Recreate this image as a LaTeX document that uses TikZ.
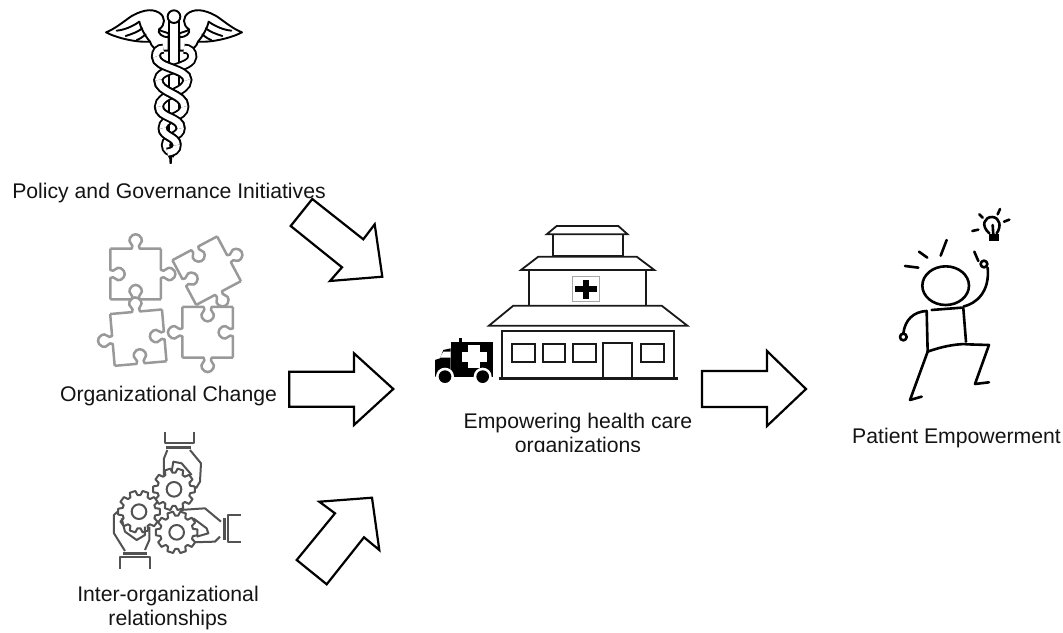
\documentclass[tikz,border=0pt]{standalone}
\usepackage{fontspec}
\setmainfont{Liberation Sans}
\tikzset{
  lbl/.style={text=black!92,align=center,inner sep=0pt},
  lblbg/.style={lbl,font=\fontsize{21.2}{24.5}\selectfont},
  blockarrow/.style={draw=black,line width=2.2pt,fill=white,line join=miter},
  pzl/.style={draw=black!40,line width=2.5pt,line join=round},
  gr/.style={draw=black!68,line width=2pt,line join=round},
  hb/.style={draw=black!90,line width=1.8pt},
  sk/.style={draw=black,line width=2.6pt,line cap=round,line join=round},
  wg/.style={draw=black,line width=1.9pt,line cap=round,line join=round},
  zc/.style={x=0.3333pt,y=-0.3333pt}
}
\newcommand{\pzpiece}[8]{%
 \begin{scope}[shift={(#1,#2)},rotate=#3]
  \foreach \ii/\sg in {0/#5,-90/#6,180/#7,90/#8}{
   \draw[pzl,rotate=\ii,shift={(0,-#4)},yscale=\sg]
    (-#4,0) -- (-12,0) .. controls (-2,-12) and (-26,-18) .. (-17,-32)
    .. controls (-9,-47) and (9,-47) .. (17,-32)
    .. controls (26,-18) and (2,-12) .. (12,0) -- (#4,0);
  }
 \end{scope}}
\newcommand{\gearat}[2]{%
 \begin{scope}[shift={(#1,#2)}]
  \draw[gr,fill=white] (-12:50) \foreach \a in {0,36,...,324}{
     -- ({\a-8}:63) -- ({\a+8}:63) -- ({\a+13}:50) -- ({\a+23}:50)} -- cycle;
  \draw[gr] (0,0) circle [radius=22];
 \end{scope}}
\newcommand{\band}[1]{%
 \draw[black,line width=10pt] #1;
 \draw[white,line width=6.2pt] #1;}
\begin{document}
\begin{tikzpicture}[x=1pt,y=-1pt]
\useasboundingbox[fill=white] (0,0) rectangle (1063,632);

% caduceus
\begin{scope}[shift={(80,0)},zc]
 \foreach \m in {1,-1}{
  \begin{scope}[shift={(282,0)},xscale=\m]
   \draw[wg,fill=white]
     (-16,100) .. controls (-30,95) and (-45,92) .. (-45,88)
     .. controls (-25,75) and (-25,50) .. (-45,38)
     .. controls (-70,22) and (-105,35) .. (-130,50)
     .. controls (-155,68) and (-180,88) .. (-204,97)
     .. controls (-170,115) and (-110,128) .. (-72,125)
     .. controls (-68,140) and (-55,150) .. (-40,152)
     -- (-16,152) -- cycle;
   \draw[wg] (-172,92) .. controls (-150,90) and (-125,80) .. (-104,65);
   \draw[wg] (-145,108) .. controls (-125,102) and (-108,95) .. (-95,85);
   \draw[wg] (-112,120) .. controls (-105,118) and (-95,112) .. (-85,103);
   \draw[wg] (-104,65) .. controls (-100,85) and (-85,110) .. (-72,125);
   \draw[wg] (-45,88) .. controls (-50,100) and (-35,112) .. (-16,112);
  \end{scope}}
 \draw[black,line width=1.9pt,fill=white] (268,65) -- (268,430) -- (296,430) -- (296,65) -- cycle;
 \draw[black,line width=1.9pt,fill=white] (282,50) circle [radius=19];
 \fill[black] (264,430) -- (269,492) -- (275,492) -- (280,430) -- cycle;
 \def\Sa{(250,146) .. controls (235,146) and (228,155) .. (228,170) .. controls (228,205) and (322,205) .. (322,240) .. controls (322,280) and (237,280) .. (237,320) .. controls (237,355) and (302,350) .. (302,385) .. controls (302,410) and (258,410) .. (258,435) .. controls (258,450) and (268,455) .. (285,458)}
 \def\Sb{(312,146) .. controls (328,146) and (337,155) .. (337,170) .. controls (337,205) and (235,205) .. (235,240) .. controls (235,280) and (313,280) .. (313,320) .. controls (313,355) and (248,350) .. (248,385) .. controls (248,410) and (290,410) .. (290,435) .. controls (290,450) and (280,455) .. (262,458)}
 \band{\Sa}
 \band{\Sb}
 \band{(228,170) .. controls (228,205) and (322,205) .. (322,240)}
 \band{(235,240) .. controls (235,280) and (313,280) .. (313,320)}
 \band{(237,320) .. controls (237,355) and (302,350) .. (302,385)}
 \band{(248,385) .. controls (248,410) and (290,410) .. (290,435)}
\end{scope}

% puzzle
\begin{scope}[shift={(80,225)},zc]
 \pzpiece{383}{322}{0}{76}{-1}{-1}{1}{1}
 \pzpiece{380}{137}{28}{76}{-1}{1}{1}{-1}
 \pzpiece{175}{338}{5}{78}{1}{-1}{-1}{1}
 \pzpiece{167}{147}{0}{76}{1}{1}{-1}{-1}
\end{scope}

% gears and hands
\begin{scope}[shift={(90,425)},zc]
 \draw[gr] (225,20) -- (225,55) -- (312,55) -- (312,20);
 \draw[black!68,line width=3pt] (228,67) -- (303,67);
 \draw[gr] (232,75) -- (222,100) -- (222,150);
 \draw[gr] (300,75) -- (333,115) -- (330,170) -- (318,190);
 \draw[gr] (245,140) -- (250,110) -- (275,115) -- (305,150);
 \draw[gr] (452,270) -- (415,270) -- (415,352) -- (452,352);
 \draw[black!68,line width=3pt] (403,280) -- (403,345);
 \draw[gr] (393,290) -- (345,250) -- (270,255);
 \draw[gr] (390,335) -- (375,350) -- (305,352);
 \draw[gr] (90,432) -- (90,397) -- (180,397) -- (180,432);
 \draw[black!68,line width=3pt] (100,385) -- (172,385);
 \draw[gr] (105,378) -- (72,325) -- (72,270) -- (85,258);
 \draw[gr] (165,375) -- (178,345) -- (178,305);
 \gearat{252}{193}
 \gearat{147}{260}
 \gearat{260}{322}
 \draw[gr] (310,280) -- (350,310) -- (355,325) -- (320,335);
 \draw[gr] (95,280) -- (105,320) -- (140,345) -- (165,330) -- (165,305);
\end{scope}

% hospital
\begin{scope}[shift={(425,215)},zc]
 \begin{scope}[hb]
  \draw (365,58) -- (395,33) -- (580,33) -- (608,58) -- cycle;
  \draw (383,60) -- (383,122) -- (593,122) -- (593,60);
  \draw (288,165) -- (340,125) -- (635,125) -- (688,165) -- cycle;
  \draw (312,168) -- (312,270);
  \draw (662,168) -- (662,270);
  \draw (192,332) -- (265,272) -- (710,272) -- (787,332) -- cycle;
  \draw (230,347) rectangle (748,490);
  \draw (262,387) rectangle (329,440);
  \draw (353,387) rectangle (420,440);
  \draw (445,387) rectangle (512,440);
  \draw (533,383) rectangle (622,488);
  \draw (649,387) rectangle (716,440);
 \end{scope}
 \draw[black!35,line width=.9pt] (443,184) rectangle (522,260);
 \fill[black] (474,194) rectangle (492,251);
 \fill[black] (450,213) rectangle (515,231);
 \draw[black!90,line width=2.4pt] (222,491) -- (758,491);
 % ambulance
 \fill[black] (77,382) rectangle (205,485);
 \fill[black] (77,400) -- (55,405) -- (45,430) -- (30,435) -- (30,485) -- (77,485) -- cycle;
 \fill[white] (55,410) -- (77,410) -- (77,428) -- (45,428) -- cycle;
 \fill[black] (102,368) rectangle (112,384);
 \fill[white] (130,390) rectangle (165,460);
 \fill[white] (110,410) rectangle (185,440);
 \fill[white] (60,485) circle [radius=27];
 \fill[white] (173,485) circle [radius=27];
 \fill[black] (60,485) circle [radius=19];
 \fill[black] (173,485) circle [radius=19];
\end{scope}

% person
\begin{scope}[shift={(880,205)},zc]
 \begin{scope}[sk]
  \draw (197,242) ellipse [x radius=70,y radius=58];
  \draw (155,315) -- (245,308);
  \draw (140,318) -- (143,440);
  \draw (250,310) -- (258,410);
  \draw (143,440) .. controls (185,425) and (220,418) .. (258,417);
  \draw (258,418) -- (327,420) -- (285,537) -- (327,532);
  \draw (143,440) -- (90,585) -- (125,575);
  \draw (140,318) .. controls (100,320) and (75,345) .. (70,385);
  \draw (70,396) circle [radius=10];
  \draw (250,305) .. controls (290,295) and (330,260) .. (323,188);
  \draw (312,177) circle [radius=10];
  \draw (75,183) -- (115,188);
  \draw (117,140) -- (142,158);
  \draw (200,105) -- (182,152);
  \draw (283,140) -- (295,168);
  \draw (277,78) -- (295,74);
  \draw (298,28) -- (308,38);
  \draw (360,12) -- (353,28);
  \draw (372,50) -- (388,44);
  \draw (328,85) .. controls (300,60) and (315,35) .. (337,36) .. controls (360,38) and (365,65) .. (350,85);
  \draw (338,60) -- (340,90);
 \end{scope}
 \fill[black] (326,88) rectangle (356,107);
\end{scope}

% labels
\node[lblbg,anchor=base] (policy) at (169,198) {Policy and Governance Initiatives};
\node[lblbg,anchor=base] (change) at (168.5,401.5) {Organizational Change};
\node[lblbg] (inter) at (168,608) {Inter-organizational\\relationships};
\node[lblbg] (hosp) at (578,435) {Empowering health care\\organizations};
\fill[white] (480,452) rectangle (680,462);
\node[lblbg,anchor=base] (patient) at (956.5,443) {Patient Empowerment};

% block arrows
\draw[blockarrow] (312.3,199) -- (363.3,239.3) -- (374.7,224.3) -- (382.3,276.7) -- (330,281) -- (342,267.3) -- (290.7,226) -- cycle;
\draw[blockarrow] (289.3,371.7) -- (354,371.7) -- (354,353.3) -- (393.3,389) -- (354,425) -- (354,406.7) -- (289.3,406.7) -- cycle;
\draw[blockarrow] (296.7,560) -- (335,513.3) -- (319.3,501.7) -- (372,497.7) -- (379.3,550) -- (364,537.3) -- (326.7,584.3) -- cycle;
\draw[blockarrow] (702,371) -- (767,371) -- (767,351) -- (806,389) -- (767,426) -- (767,407) -- (702,407) -- cycle;
\end{tikzpicture}
\end{document}
